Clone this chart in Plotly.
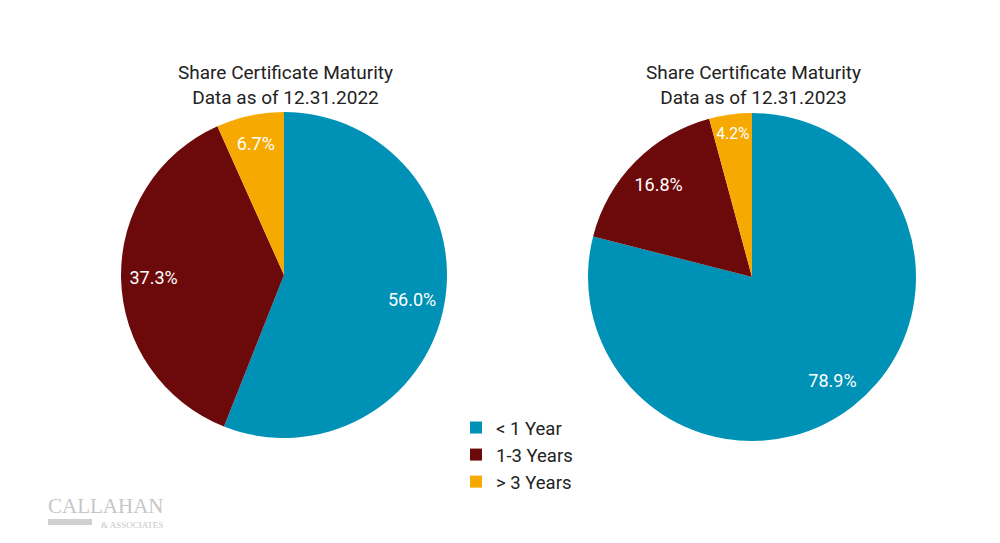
import plotly.graph_objects as go

categories = ["< 1 Year", "1-3 Years", "> 3 Years"]
values_2022 = [56.0, 37.3, 6.7]
values_2023 = [78.9, 16.8, 4.2]
titles = ["Share Certificate Maturity<br>Data as of 12.31.2022",
          "Share Certificate Maturity<br>Data as of 12.31.2023"]
colors = ["#0092B6", "#6C0A0B", "#F6A900"]

W, H = 1000, 543
OFF = 8  # page body margin offset


def px(x):
    return (x - OFF) / W


def py(y):
    return 1 - (y - OFF) / H


def dom(x0, x1, y0, y1):
    return dict(x=[px(x0), px(x1)], y=[py(y1), py(y0)])


fig = go.Figure()
base = dict(labels=categories, sort=False, direction="clockwise", rotation=0)

domains = [dom(121, 447, 112, 438), dom(588, 916, 113, 441)]
for i, vals in enumerate([values_2022, values_2023]):
    # filled pie
    fig.add_trace(go.Pie(values=vals, domain=domains[i], showlegend=(i == 0),
                         marker=dict(colors=colors, line=dict(width=0)),
                         textinfo="none", hoverinfo="label+value", **base))
    # transparent ring carrying the labels near the rim
    fig.add_trace(go.Pie(values=vals, domain=domains[i], showlegend=False,
                         hole=0.6,
                         marker=dict(colors=["rgba(0,0,0,0)"] * 3, line=dict(width=0)),
                         texttemplate="%{value:.1f}%",
                         textposition="inside",
                         insidetextorientation="horizontal",
                         textfont=dict(family="Roboto", size=18, color="white"),
                         hoverinfo="skip", **base))

annotations = [
    dict(text=titles[0], x=px(285), y=py(85), xref="paper", yref="paper",
         showarrow=False, font=dict(family="Roboto", size=19, color="#222222"),
         xanchor="center", yanchor="middle"),
    dict(text=titles[1], x=px(753), y=py(85), xref="paper", yref="paper",
         showarrow=False, font=dict(family="Roboto", size=19, color="#222222"),
         xanchor="center", yanchor="middle"),
    dict(text="CALLAHAN", x=px(46), y=py(506), xref="paper", yref="paper",
         showarrow=False, font=dict(family="Liberation Serif", size=21, color="#C6C6C6"),
         xanchor="left", yanchor="middle"),
    dict(text="&amp; ASSOCIATES", x=px(165), y=py(525), xref="paper", yref="paper",
         showarrow=False, font=dict(family="Liberation Serif", size=9, color="#C6C6C6"),
         xanchor="right", yanchor="middle"),
]

shapes = [
    dict(type="rect", xref="paper", yref="paper",
         x0=px(48), x1=px(92), y0=py(525), y1=py(519),
         fillcolor="#D0D0D0", line=dict(width=0)),
]

fig.update_layout(
    width=W, height=H,
    margin=dict(l=0, r=0, t=0, b=0),
    paper_bgcolor="white",
    plot_bgcolor="white",
    font=dict(family="Roboto"),
    annotations=annotations,
    shapes=shapes,
    legend=dict(
        x=px(456), y=py(409), xanchor="left", yanchor="top",
        font=dict(family="Roboto", size=18.5, color="#222222"),
        itemsizing="constant", tracegroupgap=0,
        bgcolor="rgba(0,0,0,0)",
    ),
)

fig.write_html("out.html")
